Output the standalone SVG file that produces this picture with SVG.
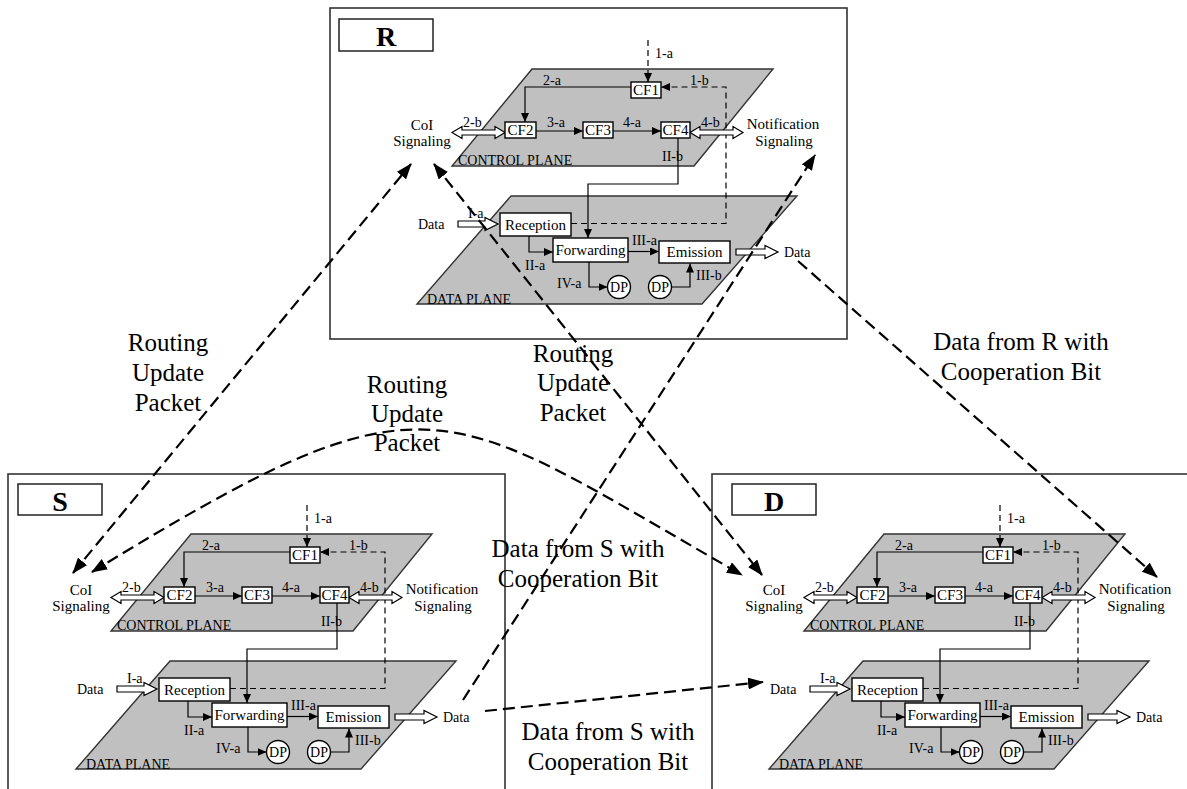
<svg xmlns="http://www.w3.org/2000/svg" width="1187" height="789" viewBox="0 0 1187 789">
<defs>
<style>
text{font-family:"Liberation Serif","Times New Roman",serif;fill:#000}
.t15{font-size:15px}
.t14{font-size:14px}
.mid{text-anchor:middle}
.big{font-size:25px;text-anchor:middle}
.lbl{font-size:28px;font-weight:bold;text-anchor:middle}
.outer{fill:none;stroke:#333;stroke-width:1.6}
.lbox{fill:#fff;stroke:#222;stroke-width:1.5}
.plane{fill:#c0c0c0;stroke:#333;stroke-width:1.4}
.bx{fill:#fff;stroke:#000;stroke-width:1.4}
.ln{fill:none;stroke:#000;stroke-width:1.2}
.dsh{fill:none;stroke:#000;stroke-width:1.2;stroke-dasharray:6 4}
.hol{fill:#fff;stroke:#000;stroke-width:1.2}
.con{fill:none;stroke:#000;stroke-width:2.2;stroke-dasharray:12 6}
</style>
<marker id="ah" markerUnits="userSpaceOnUse" markerWidth="9" markerHeight="8" refX="9" refY="4" orient="auto"><path d="M0,0 L9,4 L0,8 z" fill="#000"/></marker>
<marker id="bh" markerUnits="userSpaceOnUse" markerWidth="16" markerHeight="12" refX="15" refY="6" orient="auto-start-reverse"><path d="M0,0 L16,6 L0,12 z" fill="#000"/></marker>
</defs>
<rect width="1187" height="789" fill="#fff"/>

<g id="node-R">
<rect class="outer" x="330" y="8" width="517" height="331"/>
<rect class="lbox" x="339" y="19" width="94" height="32"/>
<text class="lbl" x="386" y="46">R</text>
<g transform="translate(0,0)">
<polygon class="plane" points="532,69 773,69 694,166 452,166"/>
<text class="t14" x="458" y="165">CONTROL PLANE</text>
<polygon class="plane" points="511,196 797,196 702,304 417,304"/>
<text class="t14" x="427" y="304">DATA PLANE</text>
<path class="dsh" d="M648,40 V82" marker-end="url(#ah)"/>
<path class="dsh" d="M571,223.5 H726 V87 H661" marker-end="url(#ah)"/>
<path class="ln" d="M631,87 H525 V122" marker-end="url(#ah)"/>
<path class="ln" d="M536,131 H583" marker-end="url(#ah)"/>
<path class="ln" d="M613,131 H661" marker-end="url(#ah)"/>
<path class="ln" d="M678,138 V184 H588 V238" marker-end="url(#ah)"/>
<path class="ln" d="M529,236 V252 H553" marker-end="url(#ah)"/>
<path class="ln" d="M628,251.5 H659" marker-end="url(#ah)"/>
<path class="ln" d="M589,262 V287 H607.5" marker-end="url(#ah)"/>
<path class="ln" d="M671.5,287 H690 V263.5" marker-end="url(#ah)"/>
<polygon class="hol" points="452,132.5 462,126.5 462,130 495,130 495,126.5 505,132.5 495,138.5 495,135 462,135 462,138.5"/>
<polygon class="hol" points="690,132.5 700,126.5 700,130 733,130 733,126.5 743,132.5 733,138.5 733,135 700,135 700,138.5"/>
<polygon class="hol" points="458,221 485,221 485,217.5 498,224 485,230.5 485,227 458,227"/>
<polygon class="hol" points="736,249 765,249 765,245.5 778,252 765,258.5 765,255 736,255"/>
<rect class="bx" x="631" y="82" width="30" height="16"/><text class="t15 mid" x="646" y="95">CF1</text>
<rect class="bx" x="505" y="122" width="31" height="16"/><text class="t15 mid" x="520.5" y="135">CF2</text>
<rect class="bx" x="583" y="122" width="30" height="16"/><text class="t15 mid" x="598" y="135">CF3</text>
<rect class="bx" x="661" y="122" width="29" height="16"/><text class="t15 mid" x="675.5" y="135">CF4</text>
<rect class="bx" x="500" y="213" width="71" height="23"/><text class="t15 mid" x="535.5" y="230">Reception</text>
<rect class="bx" x="553" y="238" width="75" height="24"/><text class="t15 mid" x="590.5" y="255">Forwarding</text>
<rect class="bx" x="659" y="241" width="71" height="22"/><text class="t15 mid" x="694.5" y="257">Emission</text>
<circle class="bx" cx="619" cy="287" r="11.5"/><text class="t14 mid" x="619" y="292">DP</text>
<circle class="bx" cx="660" cy="287" r="11.5"/><text class="t14 mid" x="660" y="292">DP</text>
<text class="t14" x="655" y="58">1-a</text>
<text class="t14" x="543" y="85">2-a</text>
<text class="t14" x="690" y="85">1-b</text>
<text class="t14" x="463" y="127">2-b</text>
<text class="t14" x="547" y="127">3-a</text>
<text class="t14" x="623" y="127">4-a</text>
<text class="t14" x="701" y="127">4-b</text>
<text class="t14" x="662" y="161">II-b</text>
<text class="t14" x="468" y="218">I-a</text>
<text class="t14" x="525" y="270">II-a</text>
<text class="t14" x="632" y="245">III-a</text>
<text class="t14" x="557" y="288">IV-a</text>
<text class="t14" x="696" y="280">III-b</text>
<text class="t14" x="418" y="229">Data</text>
<text class="t14" x="784" y="257">Data</text>
<text class="t15 mid" x="422" y="130">CoI</text>
<text class="t15 mid" x="422" y="146">Signaling</text>
<text class="t15 mid" x="783" y="129">Notification</text>
<text class="t15 mid" x="784" y="146">Signaling</text>
</g>
</g>

<g id="node-S">
<rect class="outer" x="8" y="474" width="497" height="330"/>
<rect class="lbox" x="18" y="484" width="84" height="31"/>
<text class="lbl" x="60" y="511">S</text>
<g transform="translate(-341,465)">
<polygon class="plane" points="532,69 773,69 694,166 452,166"/>
<text class="t14" x="458" y="165">CONTROL PLANE</text>
<polygon class="plane" points="511,196 797,196 702,304 417,304"/>
<text class="t14" x="427" y="304">DATA PLANE</text>
<path class="dsh" d="M648,40 V82" marker-end="url(#ah)"/>
<path class="dsh" d="M571,223.5 H726 V87 H661" marker-end="url(#ah)"/>
<path class="ln" d="M631,87 H525 V122" marker-end="url(#ah)"/>
<path class="ln" d="M536,131 H583" marker-end="url(#ah)"/>
<path class="ln" d="M613,131 H661" marker-end="url(#ah)"/>
<path class="ln" d="M678,138 V184 H588 V238" marker-end="url(#ah)"/>
<path class="ln" d="M529,236 V252 H553" marker-end="url(#ah)"/>
<path class="ln" d="M628,251.5 H659" marker-end="url(#ah)"/>
<path class="ln" d="M589,262 V287 H607.5" marker-end="url(#ah)"/>
<path class="ln" d="M671.5,287 H690 V263.5" marker-end="url(#ah)"/>
<polygon class="hol" points="452,132.5 462,126.5 462,130 495,130 495,126.5 505,132.5 495,138.5 495,135 462,135 462,138.5"/>
<polygon class="hol" points="690,132.5 700,126.5 700,130 733,130 733,126.5 743,132.5 733,138.5 733,135 700,135 700,138.5"/>
<polygon class="hol" points="458,221 485,221 485,217.5 498,224 485,230.5 485,227 458,227"/>
<polygon class="hol" points="736,249 765,249 765,245.5 778,252 765,258.5 765,255 736,255"/>
<rect class="bx" x="631" y="82" width="30" height="16"/><text class="t15 mid" x="646" y="95">CF1</text>
<rect class="bx" x="505" y="122" width="31" height="16"/><text class="t15 mid" x="520.5" y="135">CF2</text>
<rect class="bx" x="583" y="122" width="30" height="16"/><text class="t15 mid" x="598" y="135">CF3</text>
<rect class="bx" x="661" y="122" width="29" height="16"/><text class="t15 mid" x="675.5" y="135">CF4</text>
<rect class="bx" x="500" y="213" width="71" height="23"/><text class="t15 mid" x="535.5" y="230">Reception</text>
<rect class="bx" x="553" y="238" width="75" height="24"/><text class="t15 mid" x="590.5" y="255">Forwarding</text>
<rect class="bx" x="659" y="241" width="71" height="22"/><text class="t15 mid" x="694.5" y="257">Emission</text>
<circle class="bx" cx="619" cy="287" r="11.5"/><text class="t14 mid" x="619" y="292">DP</text>
<circle class="bx" cx="660" cy="287" r="11.5"/><text class="t14 mid" x="660" y="292">DP</text>
<text class="t14" x="655" y="58">1-a</text>
<text class="t14" x="543" y="85">2-a</text>
<text class="t14" x="690" y="85">1-b</text>
<text class="t14" x="463" y="127">2-b</text>
<text class="t14" x="547" y="127">3-a</text>
<text class="t14" x="623" y="127">4-a</text>
<text class="t14" x="701" y="127">4-b</text>
<text class="t14" x="662" y="161">II-b</text>
<text class="t14" x="468" y="218">I-a</text>
<text class="t14" x="525" y="270">II-a</text>
<text class="t14" x="632" y="245">III-a</text>
<text class="t14" x="557" y="288">IV-a</text>
<text class="t14" x="696" y="280">III-b</text>
<text class="t14" x="418" y="229">Data</text>
<text class="t14" x="784" y="257">Data</text>
<text class="t15 mid" x="422" y="130">CoI</text>
<text class="t15 mid" x="422" y="146">Signaling</text>
<text class="t15 mid" x="783" y="129">Notification</text>
<text class="t15 mid" x="784" y="146">Signaling</text>
</g>
</g>

<g id="node-D">
<rect class="outer" x="712" y="474" width="500" height="330"/>
<rect class="lbox" x="732" y="484" width="84" height="31"/>
<text class="lbl" x="774" y="511">D</text>
<g transform="translate(352,465)">
<polygon class="plane" points="532,69 773,69 694,166 452,166"/>
<text class="t14" x="458" y="165">CONTROL PLANE</text>
<polygon class="plane" points="511,196 797,196 702,304 417,304"/>
<text class="t14" x="427" y="304">DATA PLANE</text>
<path class="dsh" d="M648,40 V82" marker-end="url(#ah)"/>
<path class="dsh" d="M571,223.5 H726 V87 H661" marker-end="url(#ah)"/>
<path class="ln" d="M631,87 H525 V122" marker-end="url(#ah)"/>
<path class="ln" d="M536,131 H583" marker-end="url(#ah)"/>
<path class="ln" d="M613,131 H661" marker-end="url(#ah)"/>
<path class="ln" d="M678,138 V184 H588 V238" marker-end="url(#ah)"/>
<path class="ln" d="M529,236 V252 H553" marker-end="url(#ah)"/>
<path class="ln" d="M628,251.5 H659" marker-end="url(#ah)"/>
<path class="ln" d="M589,262 V287 H607.5" marker-end="url(#ah)"/>
<path class="ln" d="M671.5,287 H690 V263.5" marker-end="url(#ah)"/>
<polygon class="hol" points="452,132.5 462,126.5 462,130 495,130 495,126.5 505,132.5 495,138.5 495,135 462,135 462,138.5"/>
<polygon class="hol" points="690,132.5 700,126.5 700,130 733,130 733,126.5 743,132.5 733,138.5 733,135 700,135 700,138.5"/>
<polygon class="hol" points="458,221 485,221 485,217.5 498,224 485,230.5 485,227 458,227"/>
<polygon class="hol" points="736,249 765,249 765,245.5 778,252 765,258.5 765,255 736,255"/>
<rect class="bx" x="631" y="82" width="30" height="16"/><text class="t15 mid" x="646" y="95">CF1</text>
<rect class="bx" x="505" y="122" width="31" height="16"/><text class="t15 mid" x="520.5" y="135">CF2</text>
<rect class="bx" x="583" y="122" width="30" height="16"/><text class="t15 mid" x="598" y="135">CF3</text>
<rect class="bx" x="661" y="122" width="29" height="16"/><text class="t15 mid" x="675.5" y="135">CF4</text>
<rect class="bx" x="500" y="213" width="71" height="23"/><text class="t15 mid" x="535.5" y="230">Reception</text>
<rect class="bx" x="553" y="238" width="75" height="24"/><text class="t15 mid" x="590.5" y="255">Forwarding</text>
<rect class="bx" x="659" y="241" width="71" height="22"/><text class="t15 mid" x="694.5" y="257">Emission</text>
<circle class="bx" cx="619" cy="287" r="11.5"/><text class="t14 mid" x="619" y="292">DP</text>
<circle class="bx" cx="660" cy="287" r="11.5"/><text class="t14 mid" x="660" y="292">DP</text>
<text class="t14" x="655" y="58">1-a</text>
<text class="t14" x="543" y="85">2-a</text>
<text class="t14" x="690" y="85">1-b</text>
<text class="t14" x="463" y="127">2-b</text>
<text class="t14" x="547" y="127">3-a</text>
<text class="t14" x="623" y="127">4-a</text>
<text class="t14" x="701" y="127">4-b</text>
<text class="t14" x="662" y="161">II-b</text>
<text class="t14" x="468" y="218">I-a</text>
<text class="t14" x="525" y="270">II-a</text>
<text class="t14" x="632" y="245">III-a</text>
<text class="t14" x="557" y="288">IV-a</text>
<text class="t14" x="696" y="280">III-b</text>
<text class="t14" x="418" y="229">Data</text>
<text class="t14" x="784" y="257">Data</text>
<text class="t15 mid" x="422" y="130">CoI</text>
<text class="t15 mid" x="422" y="146">Signaling</text>
<text class="t15 mid" x="783" y="129">Notification</text>
<text class="t15 mid" x="784" y="146">Signaling</text>
</g>
</g>

<g id="connectors">
<path class="con" d="M73,573 L411,164" marker-start="url(#bh)" marker-end="url(#bh)"/>
<path class="con" d="M92,572 C433,363 438,401 742,575" marker-start="url(#bh)" marker-end="url(#bh)"/>
<path class="con" d="M434,164 L762,575" marker-start="url(#bh)" marker-end="url(#bh)"/>
<path class="con" d="M463,700 L815,155" marker-end="url(#bh)"/>
<path class="con" d="M798,261 L1157,577" marker-end="url(#bh)"/>
<path class="con" d="M485,711 L763,682" marker-end="url(#bh)"/>
</g>

<g id="labels">
<text class="big" x="168" y="351">Routing</text>
<text class="big" x="168" y="381">Update</text>
<text class="big" x="168" y="411">Packet</text>
<text class="big" x="407" y="393">Routing</text>
<text class="big" x="407" y="422">Update</text>
<text class="big" x="407" y="451">Packet</text>
<text class="big" x="573" y="362">Routing</text>
<text class="big" x="573" y="391">Update</text>
<text class="big" x="573" y="421">Packet</text>
<text class="big" x="1021" y="350">Data from R with</text>
<text class="big" x="1021" y="380">Cooperation Bit</text>
<text class="big" x="578" y="557">Data from S with</text>
<text class="big" x="578" y="587">Cooperation Bit</text>
<text class="big" x="608" y="740">Data from S with</text>
<text class="big" x="608" y="770">Cooperation Bit</text>
</g>
</svg>
